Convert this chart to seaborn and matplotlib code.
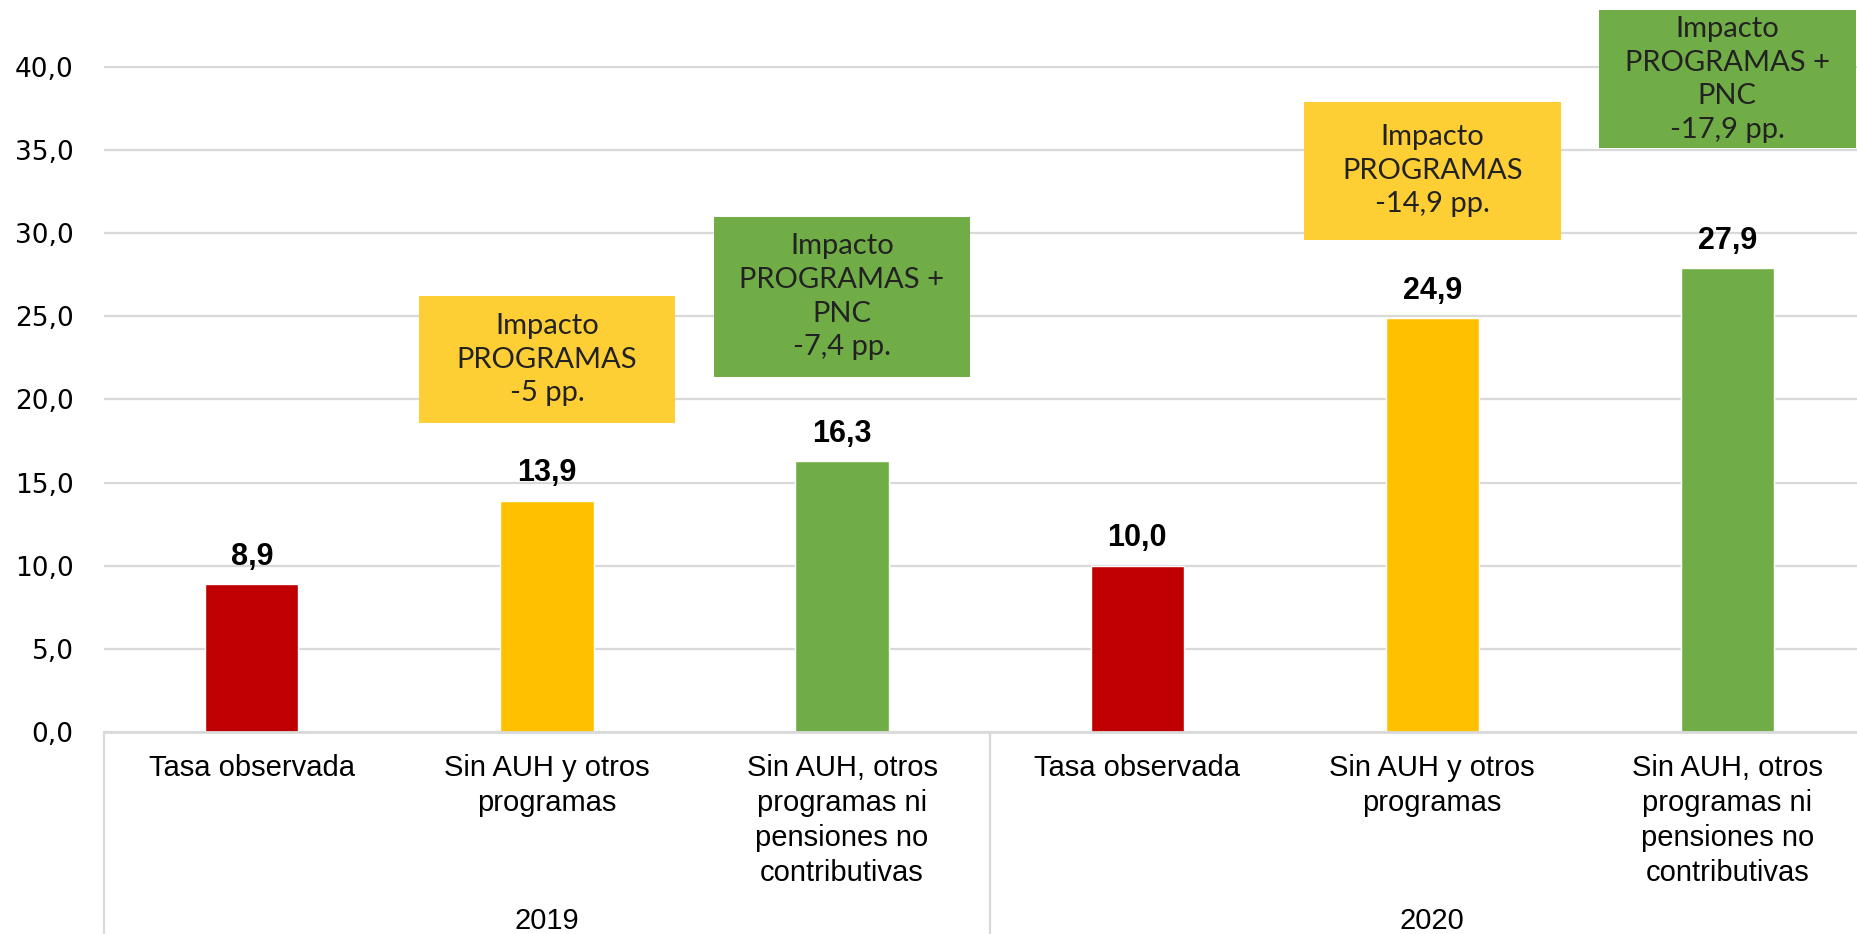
import matplotlib
matplotlib.use("Agg")
import matplotlib.pyplot as plt
import matplotlib.transforms as mtransforms
from matplotlib.patches import Rectangle
import seaborn as sns
import pandas as pd

# ---- data -------------------------------------------------------------
years = ["2019", "2020"]
scenarios = [
    "Tasa observada",
    "Sin AUH y otros\nprogramas",
    "Sin AUH, otros\nprogramas ni\npensiones no\ncontributivas",
]
rates_2019 = [8.9, 13.9, 16.3]
rates_2020 = [10.0, 24.9, 27.9]
bar_colors = ["#C00000", "#FFC000", "#70AD47"]
yticks = [0, 5, 10, 15, 20, 25, 30, 35, 40]

# impact callouts: which bar they sit over, and their vertical extent
impact_titles = ["Impacto\nPROGRAMAS", "Impacto\nPROGRAMAS +\nPNC"]
impact_box_colors = ["#FDCF35", "#70AD47"]
impact_box_spans = [(18.6, 26.2), (21.35, 31.0), (29.6, 37.9), (35.1, 43.4)]


def fmt(v, nd=1):
    s = f"{v:.{nd}f}"
    return s.replace(".", ",")


rows = []
for year, rates in zip(years, [rates_2019, rates_2020]):
    for i, (sc, r) in enumerate(zip(scenarios, rates)):
        rows.append({"key": f"{year}-{i}", "scenario": sc, "year": year,
                     "rate": r, "color": bar_colors[i]})
df = pd.DataFrame(rows)

# ---- figure -----------------------------------------------------------
sns.set_theme(style="white")
plt.rcParams["font.family"] = ["Liberation Sans", "DejaVu Sans"]

W, H = 1858, 934
fig = plt.figure(figsize=(W / 100, H / 100), dpi=100)
left_px, cat_px = 104.3, 295.1
zero_px, top_px = 732.0, 0.0
ax = fig.add_axes([left_px / W, (H - zero_px) / H,
                   6 * cat_px / W, (zero_px - top_px) / H])

sns.barplot(data=df, x="key", y="rate", hue="key",
            palette=list(df["color"]), width=0.316, legend=False,
            saturation=1, ax=ax)

ax.set_xlim(-0.5, 5.5)
ax.set_ylim(0, 44.03)
ax.set_yticks(yticks)
ax.set_yticklabels([fmt(v) for v in yticks], fontsize=19,
                   family=["DejaVu Sans"])
ax.set_xticks(range(len(df)))
ax.set_xticklabels(df["scenario"], fontsize=21, linespacing=1.31,
                   color="black")
ax.tick_params(axis="y", length=0, pad=22, colors="black")
ax.tick_params(axis="x", length=0, pad=16)
ax.set_xlabel("")
ax.set_ylabel("")

ax.grid(axis="y", color="#D9D9D9", linewidth=1.6)
ax.set_axisbelow(True)
for side in ["left", "right", "top"]:
    ax.spines[side].set_visible(False)
ax.spines["bottom"].set_color("#D9D9D9")
ax.spines["bottom"].set_linewidth(2)

# value labels
for cont in ax.containers:
    ax.bar_label(cont, labels=[fmt(b.get_height()) for b in cont],
                 padding=9, fontsize=22, fontweight="bold", color="black")

# multi-level category axis: group separators and year labels
trans = mtransforms.blended_transform_factory(ax.transData, ax.transAxes)
bottom_frac = -(H - zero_px) / zero_px
for xs in [-0.5, 2.5, 5.5]:
    ax.plot([xs, xs], [0, bottom_frac], transform=trans, color="#D9D9D9",
            linewidth=1.6, clip_on=False)
for g, year in enumerate(years):
    ax.text(g * 3 + 1, -(921 - zero_px) / zero_px, year, transform=trans,
            ha="center", va="center", fontsize=21, color="black")

# impact callouts over the counterfactual bars
box_w = 0.87
k = 0
for g, rates in enumerate([rates_2019, rates_2020]):
    for j in (1, 2):
        xc = g * 3 + j
        lo, hi = impact_box_spans[k]
        impact = rates[0] - rates[j]
        nd = 0 if abs(impact - round(impact)) < 1e-9 else 1
        label = f"{impact_titles[j - 1]}\n{fmt(impact, nd)} pp."
        ax.add_patch(Rectangle((xc - box_w / 2, lo), box_w, hi - lo,
                               facecolor=impact_box_colors[j - 1],
                               edgecolor="none", zorder=3, clip_on=False))
        ax.text(xc, (lo + hi) / 2, label, ha="center", va="center",
                fontsize=21, linespacing=1.36, color="#222222",
                family=["Lato", "DejaVu Sans"], fontweight="normal", zorder=4)
        k += 1

fig.savefig("out.png", dpi=100)
